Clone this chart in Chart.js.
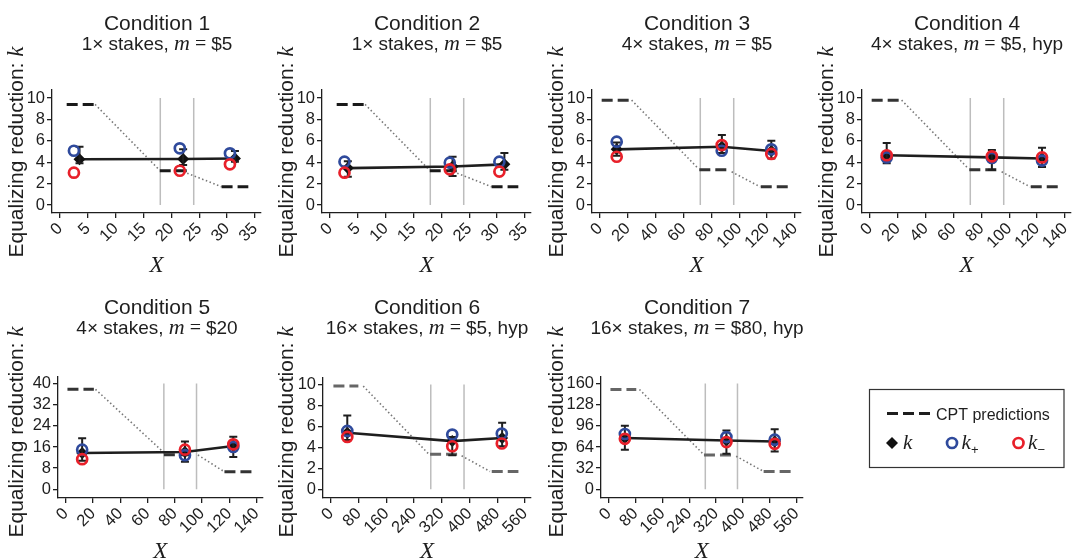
<!DOCTYPE html>
<html>
<head>
<meta charset="utf-8">
<script src="https://cdn.jsdelivr.net/npm/chart.js@4.4.1/dist/chart.umd.min.js"></script>
<style>
  body { margin: 0; background: #fff; width: 1081px; height: 560px; position: relative; overflow: hidden; }
  canvas { position: absolute; }
</style>
</head>
<body>
<script>
// panel labels
const conditions = ["Condition 1", "Condition 2", "Condition 3", "Condition 4", "Condition 5", "Condition 6", "Condition 7"];
const stakes = ["1×", "1×", "4×", "4×", "4×", "16×", "16×"];
const money = ["$5", "$5", "$5", "$5, hyp", "$20", "$5, hyp", "$80, hyp"];

// tick labels
const xTicks1 = [0, 5, 10, 15, 20, 25, 30, 35];
const xTicks4 = [0, 20, 40, 60, 80, 100, 120, 140];
const xTicks16 = [0, 80, 160, 240, 320, 400, 480, 560];
const yTicks10 = [0, 2, 4, 6, 8, 10];
const yTicks40 = [0, 8, 16, 24, 32, 40];
const yTicks160 = [0, 32, 64, 96, 128, 160];
const panelXTicks = [xTicks1, xTicks1, xTicks4, xTicks4, xTicks4, xTicks16, xTicks16];
const panelYTicks = [yTicks10, yTicks10, yTicks10, yTicks10, yTicks40, yTicks10, yTicks160];

// k with error bars
const xK = [[3.5, 22.1, 31.4], [3.2, 22, 31.3], [12, 87.5, 123], [12, 87.5, 123.5], [12, 87.5, 123], [47, 350, 494], [48, 351, 495]];
const kVal = [[4.27, 4.3, 4.35], [3.45, 3.6, 3.8], [5.2, 5.45, 5.05], [4.65, 4.45, 4.35], [13.7, 14.1, 16.4], [5.4, 4.6, 4.9], [77.5, 73.9, 72.4]];
const kLow = [[3.9, 3.75, 4.05], [2.65, 2.7, 3.3], [4.6, 4.85, 4.35], [3.9, 3.3, 3.55], [10.8, 10.4, 12.2], [4.7, 3.25, 4.1], [59.7, 53.6, 57.2]];
const kHigh = [[5.45, 5.2, 5.05], [4.1, 4.5, 4.85], [5.85, 6.55, 6.0], [5.8, 5.15, 5.35], [19.3, 18.1, 19.9], [7.05, 5.0, 6.35], [96, 89, 91]];
// k+ and k-
const xPM = [[2.5, 21.5, 30.5], [2.6, 21.5, 30.4], [12, 87.4, 123], [12, 87.5, 123.5], [12, 87.5, 123], [47, 350, 493], [48, 351, 495]];
const kPlus = [[5.07, 5.3, 4.83], [4.05, 3.96, 4.05], [5.92, 5.07, 5.2], [4.45, 4.4, 4.15], [15, 12.9, 16], [5.57, 5.22, 5.32], [83.6, 79, 75]];
const kMinus = [[3.02, 3.2, 3.8], [3.02, 3.33, 3.12], [4.51, 5.6, 4.77], [4.65, 4.55, 4.45], [11.4, 15, 17], [5.0, 4.11, 4.37], [76.4, 71.4, 68.8]];

// CPT predictions (dashed levels) and the dotted slopes between them
const cptLevel = [[9.4, 3.2, 1.7], [9.4, 3.2, 1.7], [9.8, 3.3, 1.7], [9.8, 3.3, 1.7], [37.8, 13.1, 6.6], [9.85, 3.35, 1.7], [151, 52, 27]];
const cptFrom = [[1.2, 17.9, 29], [1.2, 17.9, 29], [1.2, 71.3, 115.4], [1.2, 71.3, 115.4], [1.2, 72, 116.5], [7, 286, 464], [5, 284, 462]];
const cptTo = [[6.3, 23, 33.8], [6.3, 23, 33.8], [21, 92, 135.2], [21, 92, 135.2], [20.6, 92, 137], [79, 372, 541], [82, 366, 544]];
const slopeHiX = [[6.3, 17.6], [6.3, 17.6], [22.7, 70.6], [22.7, 70.6], [21.8, 72.8], [93, 281], [91.5, 279]];
const slopeHiY = [[9.4, 3.4], [9.4, 3.4], [9.8, 3.4], [9.8, 3.4], [37.8, 13.5], [9.85, 3.4], [151, 54.7]];
const slopeLoX = [[21.5, 29], [21.5, 29], [94.5, 115], [94.5, 115], [97, 116.5], [377, 459], [380, 462]];
const slopeLoY = [[3.25, 1.7], [3.25, 1.7], [3.1, 1.7], [3.1, 1.7], [13, 6.6], [3.2, 1.7], [50, 27]];
// grey vertical lines
const bandX = [[18, 24], [18, 24], [72, 96], [72, 96], [72, 96], [288, 384], [288, 384]];

const cptColor = ['#1a1a1a', '#1a1a1a', '#333', '#333', '#333', '#666', '#666'];
const BLUE = '#2f4a9c', RED = '#e8202a', INK = '#1e1e1e';

// chart areas inside each 270x280 canvas: left, right, top, bottom
const areas = [[52, 261, 90, 213], [52, 261, 90, 213], [52, 261, 90, 213], [52, 261, 90, 213],
               [58, 267, 97, 218], [53, 261, 98, 218], [61, 268, 97, 218]];

Chart.defaults.font.family = '"Liberation Sans", Arial, sans-serif';
Chart.defaults.color = INK;

function range(ticks, len, gLo, gHi) {
  const a = ticks[0], b = ticks[ticks.length - 1];
  const u = (len - gLo - gHi) / (b - a);
  return { min: a - gLo / u, max: b + gHi / u };
}

function drawRuns(c, runs, cx, y) {
  let total = 0;
  const ws = runs.map(r => { c.font = r[1]; const w = c.measureText(r[0]).width; total += w; return w; });
  let x = cx - total / 2;
  runs.forEach((r, j) => { c.font = r[1]; c.fillText(r[0], x, y + (r[2] || 0)); x += ws[j]; });
}

const SANS = s => s + 'px "Liberation Sans"';
const SERIF_I = s => 'italic ' + s + 'px "Liberation Serif"';

const panelText = {
  id: 'panelText',
  afterDraw(chart, args, opts) {
    const i = opts.idx, c = chart.ctx, row = i < 4 ? 0 : 1, ca = chart.chartArea;
    c.save();
    c.fillStyle = INK; c.textAlign = 'left'; c.textBaseline = 'alphabetic';
    drawRuns(c, [[conditions[i], SANS(21)]], 157, row ? 33.5 : 29.5);
    drawRuns(c, [[stakes[i] + ' stakes, ', SANS(19)], ['m', SERIF_I(22)], [' = ', '20px "Liberation Serif"'], [money[i], SANS(19)]], 157, row ? 53.5 : 49.5);
    drawRuns(c, [['X', SERIF_I(23)]], (ca.left + ca.right) / 2, row ? 278 : 271.5);
    c.translate(22.7, 152);
    c.rotate(-Math.PI / 2);
    drawRuns(c, [['Equalizing reduction: ', SANS(21)], ['k', SERIF_I(23)]], 0, 0);
    c.restore();
  }
};

const errorBars = {
  id: 'errorBars',
  afterDatasetDraw(chart, args) {
    const ds = chart.data.datasets[args.index];
    if (!ds.errLow) return;
    const c = chart.ctx, xs = chart.scales.x, ys = chart.scales.y;
    c.save();
    c.strokeStyle = INK; c.lineWidth = 2;
    ds.data.forEach((p, j) => {
      const x = xs.getPixelForValue(p.x);
      const lo = ys.getPixelForValue(ds.errLow[j]), hi = ys.getPixelForValue(ds.errHigh[j]);
      c.beginPath();
      c.moveTo(x, lo); c.lineTo(x, hi);
      c.moveTo(x - 4, lo); c.lineTo(x + 4, lo);
      c.moveTo(x - 4, hi); c.lineTo(x + 4, hi);
      c.stroke();
    });
    c.restore();
  }
};

function pts(xa, ya) { return xa.map((x, j) => ({ x: x, y: ya[j] })); }

for (let i = 0; i < 7; i++) {
  const col = i < 4 ? i : i - 4, row = i < 4 ? 0 : 1;
  const cw = col === 3 ? 271 : 270, chh = 280;
  const cv = document.createElement('canvas');
  cv.width = cw; cv.height = chh;
  cv.style.left = (col * 270) + 'px'; cv.style.top = (row * 280) + 'px';
  document.body.appendChild(cv);

  const a = areas[i];
  const xr = range(panelXTicks[i], a[1] - a[0], 8, 6);
  const yr = range(panelYTicks[i], a[3] - a[2], row ? 8.7 : 8, row ? 6.5 : 8);
  const yTop = panelYTicks[i][panelYTicks[i].length - 1];

  const datasets = [];
  bandX[i].forEach(x => datasets.push({ data: [{ x: x, y: 0 }, { x: x, y: yTop }], showLine: true,
    borderColor: '#bdbdbd', borderWidth: 1.5, pointRadius: 0, order: 9 }));
  [[slopeHiX, slopeHiY], [slopeLoX, slopeLoY]].forEach(s => datasets.push({ data: pts(s[0][i], s[1][i]), showLine: true,
    borderColor: '#777', borderWidth: 1.6, borderDash: [1.5, 2.5], pointRadius: 0, order: 8 }));
  cptLevel[i].forEach((lv, j) => datasets.push({ data: [{ x: cptFrom[i][j], y: lv }, { x: cptTo[i][j], y: lv }], showLine: true,
    borderColor: cptColor[i], borderWidth: 3, borderDash: [11, 5], borderCapStyle: 'butt', pointRadius: 0, order: 7 }));
  datasets.push({ data: pts(xK[i], kVal[i]), showLine: true, borderColor: INK, borderWidth: 2.6,
    pointStyle: 'rectRot', pointRadius: 6, pointBackgroundColor: '#111', pointBorderColor: '#111', pointBorderWidth: 0,
    errLow: kLow[i], errHigh: kHigh[i], order: 3 });
  datasets.push({ data: pts(xPM[i], kPlus[i]), showLine: false, pointStyle: 'circle', pointRadius: 5,
    pointBorderWidth: 2.7, pointBorderColor: BLUE, pointBackgroundColor: 'rgba(0,0,0,0)', order: 2 });
  datasets.push({ data: pts(xPM[i], kMinus[i]), showLine: false, pointStyle: 'circle', pointRadius: 5,
    pointBorderWidth: 2.7, pointBorderColor: RED, pointBackgroundColor: 'rgba(0,0,0,0)', order: 1 });

  const tickFont = { family: '"Liberation Sans"', size: 16.5 };
  new Chart(cv.getContext('2d'), {
    type: 'scatter',
    data: { datasets: datasets },
    plugins: [panelText, errorBars],
    options: {
      responsive: false, animation: false, events: [], devicePixelRatio: 1,
      layout: { padding: { left: 0, right: cw - a[1], top: a[2], bottom: 0 } },
      plugins: { legend: { display: false }, tooltip: { enabled: false }, panelText: { idx: i } },
      scales: {
        x: {
          type: 'linear', position: 'bottom', min: xr.min, max: xr.max,
          afterBuildTicks: s => { s.ticks = panelXTicks[i].map(v => ({ value: v })); },
          afterFit: s => { s.height = chh - a[3]; s.paddingLeft = 0; s.paddingRight = 0; },
          ticks: { minRotation: 45, maxRotation: 45, autoSkip: false, padding: 1, color: INK, font: tickFont, callback: v => String(v) },
          grid: { drawOnChartArea: false, drawTicks: true, tickLength: 5, color: INK, lineWidth: 1.3 },
          border: { display: true, color: INK, width: 1.3 }
        },
        y: {
          type: 'linear', position: 'left', min: yr.min, max: yr.max,
          afterBuildTicks: s => { s.ticks = panelYTicks[i].map(v => ({ value: v })); },
          afterFit: s => { s.width = a[0]; s.paddingTop = 0; s.paddingBottom = 0; },
          ticks: { autoSkip: false, padding: 2, color: INK, font: tickFont, callback: v => String(v) },
          grid: { drawOnChartArea: false, drawTicks: true, tickLength: 5, color: INK, lineWidth: 1.3 },
          border: { display: true, color: INK, width: 1.3 }
        }
      }
    }
  });
}

// legend panel
const legendBox = {
  id: 'legendBox',
  afterDraw(chart) {
    const c = chart.ctx;
    c.save();
    c.strokeStyle = '#333'; c.lineWidth = 1.2;
    c.strokeRect(59.5, 109.5, 194.5, 78);
    c.strokeStyle = INK; c.lineWidth = 3; c.setLineDash([11, 5]);
    c.beginPath(); c.moveTo(77, 133.5); c.lineTo(121, 133.5); c.stroke();
    c.setLineDash([]);
    c.fillStyle = INK; c.textAlign = 'left'; c.textBaseline = 'alphabetic';
    c.font = SANS(16); c.fillText('CPT predictions', 126, 139.5);
    c.fillStyle = '#111';
    Chart.helpers.drawPoint(c, { pointStyle: 'rectRot', radius: 6, borderWidth: 0 }, 82, 163);
    c.lineWidth = 2.7; c.fillStyle = 'rgba(0,0,0,0)';
    c.strokeStyle = BLUE;
    Chart.helpers.drawPoint(c, { pointStyle: 'circle', radius: 5, borderWidth: 2.7 }, 142, 163);
    c.strokeStyle = RED;
    Chart.helpers.drawPoint(c, { pointStyle: 'circle', radius: 5, borderWidth: 2.7 }, 208.5, 163);
    c.fillStyle = INK;
    c.font = SERIF_I(21);
    c.fillText('k', 93, 168.5); c.fillText('k', 151.5, 168.5); c.fillText('k', 218, 168.5);
    c.font = SANS(13);
    c.fillText('+', 161, 174); c.fillText('−', 227.5, 174);
    c.restore();
  }
};
const lc = document.createElement('canvas');
lc.width = 271; lc.height = 280;
lc.style.left = '810px'; lc.style.top = '280px';
document.body.appendChild(lc);
new Chart(lc.getContext('2d'), {
  type: 'scatter',
  data: { datasets: [] },
  plugins: [legendBox],
  options: {
    responsive: false, animation: false, events: [], devicePixelRatio: 1,
    plugins: { legend: { display: false }, tooltip: { enabled: false } },
    scales: { x: { display: false }, y: { display: false } }
  }
});
</script>
</body>
</html>
